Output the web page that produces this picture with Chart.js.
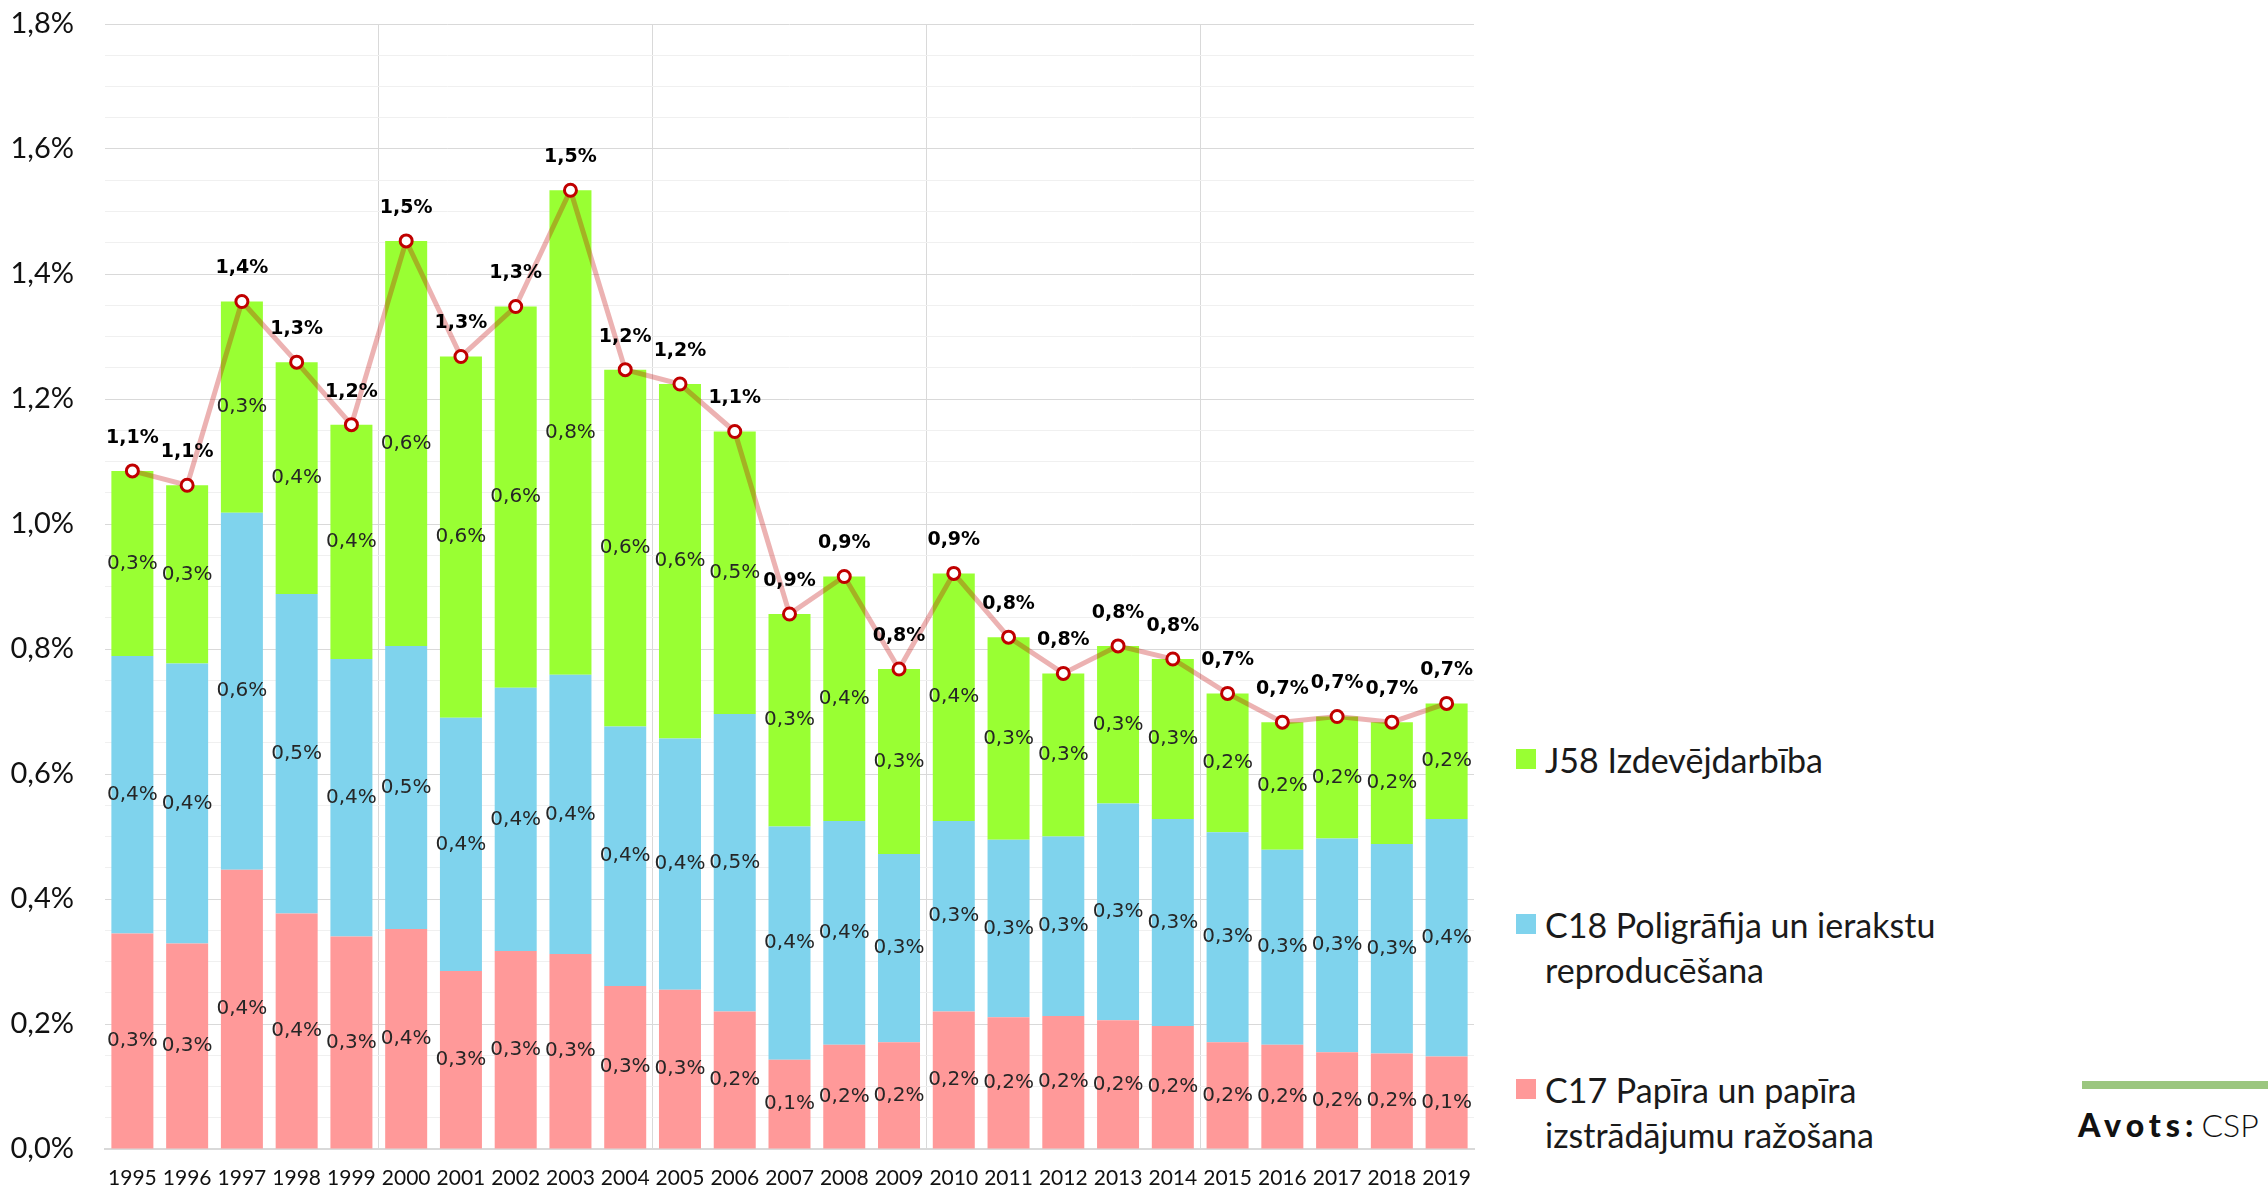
<!DOCTYPE html>
<html lang="lv">
<head>
<meta charset="utf-8">
<title>Izdevējdarbība un poligrāfija</title>
<script src="https://cdn.jsdelivr.net/npm/chart.js@4.4.1/dist/chart.umd.min.js"></script>
<style>
    html, body { margin: 0; padding: 0; background: #fff; }
    body { width: 2268px; height: 1190px; position: relative; overflow: hidden; font-family: Lato, "Open Sans", sans-serif; }
    #chartBox { position: absolute; left: 0; top: 0; width: 1500px; height: 1190px; }
    .legend-item { position: absolute; left: 1516px; }
    .legend-item .box { position: absolute; left: 0; top: 12px; width: 20px; height: 20px; }
    .legend-item .text { position: absolute; left: 29px; top: 0; font-size: 34px; line-height: 45px; color: #1a1a1a; white-space: nowrap; }
    #sourceLine { position: absolute; left: 2082px; top: 1081px; width: 186px; height: 8px; background: #9bc67f; }
    #source { position: absolute; left: 2078px; top: 1104px; font-size: 32px; line-height: 42px; color: #111; white-space: nowrap; }
    #source b { font-weight: 900; letter-spacing: 5px; margin-right: 3px; }
    #source span { font-weight: 300; }
</style>
</head>
<body>
<div id="chartBox"><canvas id="trendChart"></canvas></div>
<div id="legend"></div>
<div id="sourceLine"></div>
<div id="source"><b>Avots:</b><span>CSP</span></div>

<script>
// 数据
const years = ['1995', '1996', '1997', '1998', '1999', '2000', '2001', '2002', '2003', '2004',
    '2005', '2006', '2007', '2008', '2009', '2010', '2011', '2012', '2013', '2014',
    '2015', '2016', '2017', '2018', '2019'];

// C17 Papīra un papīra izstrādājumu ražošana
const c17Values = [0.345, 0.329, 0.447, 0.377, 0.340, 0.352, 0.285, 0.317, 0.312, 0.261,
    0.255, 0.220, 0.143, 0.167, 0.171, 0.220, 0.211, 0.213, 0.206, 0.197,
    0.171, 0.167, 0.155, 0.153, 0.148];

// C18 Poligrāfija un ierakstu reproducēšana
const c18Values = [0.444, 0.448, 0.571, 0.511, 0.444, 0.453, 0.405, 0.421, 0.447, 0.415,
    0.402, 0.476, 0.373, 0.358, 0.301, 0.305, 0.284, 0.287, 0.347, 0.331,
    0.336, 0.312, 0.342, 0.335, 0.380];

// J58 Izdevējdarbība
const j58Values = [0.296, 0.285, 0.338, 0.371, 0.375, 0.648, 0.578, 0.610, 0.775, 0.571,
    0.567, 0.452, 0.340, 0.391, 0.296, 0.396, 0.324, 0.261, 0.252, 0.256,
    0.222, 0.204, 0.195, 0.195, 0.185];

// kopā
const totalValues = [1.085, 1.062, 1.356, 1.259, 1.159, 1.453, 1.268, 1.348, 1.534, 1.247,
    1.224, 1.148, 0.856, 0.916, 0.768, 0.921, 0.819, 0.761, 0.805, 0.784,
    0.729, 0.683, 0.692, 0.683, 0.713];

const yTickLabels = ['0,0%', '0,2%', '0,4%', '0,6%', '0,8%', '1,0%', '1,2%', '1,4%', '1,6%', '1,8%'];

const seriesNames = ['C17 Papīra un papīra izstrādājumu ražošana', 'C18 Poligrāfija un ierakstu reproducēšana', 'J58 Izdevējdarbība'];
const legendLines = [
    ['J58 Izdevējdarbība'],
    ['C18 Poligrāfija un ierakstu', 'reproducēšana'],
    ['C17 Papīra un papīra', 'izstrādājumu ražošana']
];
const colors = { c17: '#ff9999', c18: '#7fd3ed', j58: '#99ff33' };

function fmtPct(v) {
    return v.toFixed(1).replace('.', ',') + '%';
}

// 数值标签
const valueLabels = {
    id: 'valueLabels',
    afterDatasetsDraw(chart) {
        const ctx = chart.ctx;
        ctx.save();
        ctx.textAlign = 'center';
        ctx.textBaseline = 'middle';
        chart.data.datasets.forEach((ds, i) => {
            const meta = chart.getDatasetMeta(i);
            meta.data.forEach((el, j) => {
                const text = fmtPct(ds.data[j]);
                if (ds.type === 'line') {
                    ctx.font = 'bold 19px "DejaVu Sans"';
                    ctx.fillStyle = '#000';
                    ctx.fillText(text, el.x, el.y - 33);
                } else {
                    const p = el.getProps(['x', 'y', 'base'], true);
                    ctx.font = '20px "DejaVu Sans"';
                    ctx.fillStyle = '#262626';
                    ctx.fillText(text, p.x, (p.y + p.base) / 2);
                }
            });
        });
        ctx.restore();
    }
};

// 图表
const ctx = document.getElementById('trendChart').getContext('2d');
const chart = new Chart(ctx, {
    type: 'bar',
    data: {
        labels: years,
        datasets: [
            {
                type: 'line',
                label: 'Kopā',
                data: totalValues,
                order: 0,
                borderColor: 'rgba(192, 0, 0, 0.3)',
                borderWidth: 5,
                tension: 0,
                pointRadius: 6,
                pointBorderWidth: 3,
                pointBorderColor: '#c00000',
                pointBackgroundColor: '#ffffff'
            },
            { label: seriesNames[0], data: c17Values, backgroundColor: colors.c17, order: 1 },
            { label: seriesNames[1], data: c18Values, backgroundColor: colors.c18, order: 1 },
            { label: seriesNames[2], data: j58Values, backgroundColor: colors.j58, order: 1 }
        ]
    },
    options: {
        responsive: true,
        maintainAspectRatio: false,
        animation: false,
        categoryPercentage: 0.767,
        barPercentage: 1,
        layout: { autoPadding: false, padding: { left: 0, top: 24, right: 26, bottom: 0 } },
        plugins: {
            legend: { display: false },
            tooltip: { enabled: false }
        },
        scales: {
            x: {
                stacked: true,
                afterFit(scale) { scale.height = 41; },
                grid: {
                    drawTicks: false,
                    color(c) {
                        return (c.index % 5 === 0 && c.index > 0 && c.index < years.length) ? '#d9d9d9' : 'rgba(0,0,0,0)';
                    }
                },
                border: { color: '#d9d9d9', width: 2 },
                ticks: {
                    autoSkip: false,
                    maxRotation: 0,
                    padding: 17,
                    color: '#111',
                    font: { family: 'Lato', size: 21 }
                }
            },
            y: {
                stacked: true,
                min: 0,
                max: 1.8,
                afterFit(scale) {
                    scale.width = 105;
                    scale.paddingTop = 0;
                    scale.paddingBottom = 0;
                },
                grid: {
                    drawTicks: false,
                    color(c) {
                        const k = Math.round(c.tick.value * 100);
                        return k % 20 === 0 ? '#d9d9d9' : '#f0f0f0';
                    }
                },
                border: { display: false },
                ticks: {
                    stepSize: 0.05,
                    autoSkip: false,
                    padding: 31,
                    color: '#111',
                    font: { family: 'Lato', size: 29 },
                    callback(value) {
                        const k = Math.round(value * 100);
                        return k % 20 === 0 ? yTickLabels[k / 20] : '';
                    }
                }
            }
        }
    },
    plugins: [valueLabels]
});

// 图例
const legendBox = document.getElementById('legend');
const legendColors = [colors.j58, colors.c18, colors.c17];
const legendTops = [737, 902, 1067];
legendLines.forEach((lines, i) => {
    const item = document.createElement('div');
    item.className = 'legend-item';
    item.style.top = legendTops[i] + 'px';
    const box = document.createElement('div');
    box.className = 'box';
    box.style.background = legendColors[i];
    const text = document.createElement('div');
    text.className = 'text';
    text.innerHTML = lines.join('<br>');
    item.appendChild(box);
    item.appendChild(text);
    legendBox.appendChild(item);
});
</script>
</body>
</html>
